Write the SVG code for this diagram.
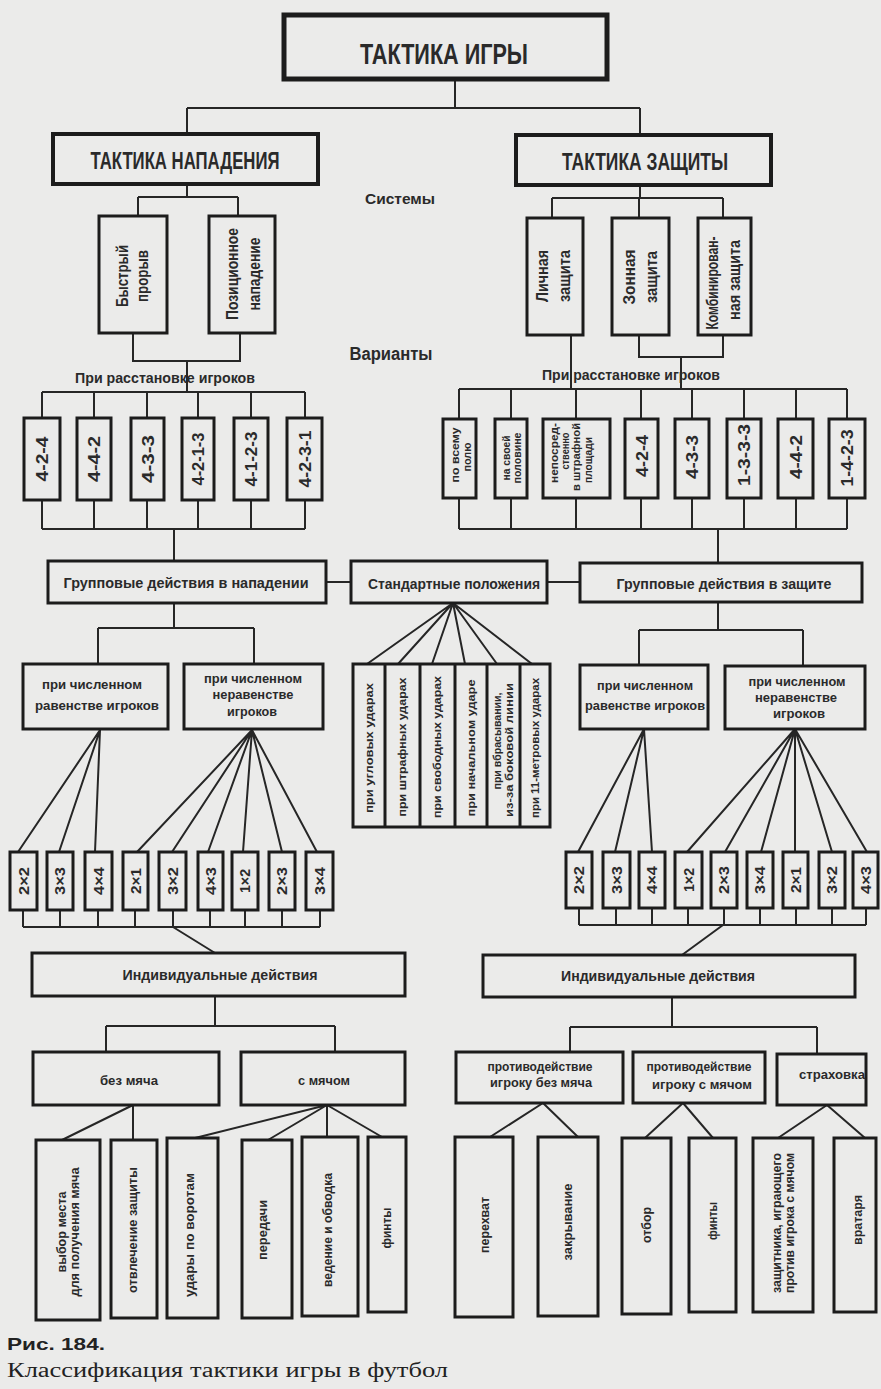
<svg xmlns="http://www.w3.org/2000/svg" width="881" height="1389" viewBox="0 0 881 1389">
<style>
.bg{fill:#ebebea}
.n rect,.n path{fill:none;stroke:#1c1c1c;stroke-width:3}
.n rect.t{stroke-width:5}
.n rect.s{stroke-width:4}
#connectors path{fill:none;stroke:#262626;stroke-width:2}
text{font-family:"Liberation Sans Narrow","Liberation Sans",Arial,sans-serif;font-weight:bold;fill:#2a2a2a;text-anchor:middle}
text.cap{font-family:"Liberation Serif","Times New Roman",serif;font-weight:normal;text-anchor:start;fill:#222}
text.fig{text-anchor:start;fill:#222}
</style>
<rect class="bg" x="0" y="0" width="881" height="1389"/>

<g id="connectors">
<path d="M455,79V108M187,108H640M187,108V134M640,108V135"/>
<path d="M187,184V197M138,197H238M138,197V216M238,197V216"/>
<path d="M133,333V361H240V333M187,361V392"/>
<path d="M42,392H305M42,392V418M94,392V418M147,392V418M198,392V418M251,392V418M305,392V418"/>
<path d="M42,500V529M94,500V529M147,500V529M198,500V529M251,500V529M305,500V529M42,529H305M174,529V561"/>
<path d="M640,185V198M552,198H723M552,198V218M639,198V218M723,198V218"/>
<path d="M571,335V389M639,335V357H723V335M681,357V389"/>
<path d="M459,389H847M459,389V419M511,389V419M576,389V419M641,389V419M692,389V419M744,389V419M796,389V419M847,389V419"/>
<path d="M459,498V529M511,498V529M576,498V529M641,498V529M692,498V529M744,498V529M796,498V529M847,498V529M459,529H847M718,529V563"/>
<path d="M326,582H351M547,582H580"/>
<path d="M174,603V628M98,628H254M98,628V664M254,628V664"/>
<path d="M718,602V630M639,630H803M639,630V665M803,630V666"/>
<path d="M100,730L18,852M100,730L59,852M100,730L95,852"/>
<path d="M252,730L137,852M252,730L172,852M252,730L208,852M252,730L243,852M252,730L282,852M252,730L317,852"/>
<path d="M453,603L367,664M453,603L398,664M453,603L432,664M453,603L465,664M453,603L497,664M453,603L532,664"/>
<path d="M644,729L578,852M644,729L615,852M644,729L652,852"/>
<path d="M795,729L687,852M795,729L725,852M795,729L761,852M795,729L795,852M795,729L832,852M795,729L867,852"/>
<path d="M23,910V927M60,910V927M98,910V927M135,910V927M173,910V927M210,910V927M245,910V927M282,910V927M320,910V927M23,927H320M173,927L215,953"/>
<path d="M579,908V925M616,908V925M652,908V925M688,908V925M724,908V925M760,908V925M796,908V925M832,908V925M866,908V925M579,925H866M723,925L682,955"/>
<path d="M215,996V1026M106,1026H335M106,1026V1052M335,1026V1052"/>
<path d="M672,997V1027M570,1027H817M570,1027V1052M817,1027V1054"/>
<path d="M133,1105L62,1140M133,1105V1140M327,1105L195,1138M327,1105L268,1140M327,1105V1137M327,1105L382,1137"/>
<path d="M543,1103L490,1137M543,1103L578,1137M683,1103L645,1138M683,1103L713,1138M827,1105L778,1138M827,1105L865,1138"/>
</g>

<g id="n-root" class="n"><rect class="t" x="284" y="15" width="323" height="64"/><text x="444" y="64" font-size="29" textLength="168" lengthAdjust="spacingAndGlyphs">ТАКТИКА ИГРЫ</text></g>
<g id="n-attack" class="n"><rect class="s" x="53" y="134" width="265" height="50"/><text x="185" y="169" font-size="23" textLength="189" lengthAdjust="spacingAndGlyphs">ТАКТИКА НАПАДЕНИЯ</text></g>
<g id="n-defense" class="n"><rect class="s" x="516" y="135" width="255" height="50"/><text x="645" y="170" font-size="23" textLength="166" lengthAdjust="spacingAndGlyphs">ТАКТИКА ЗАЩИТЫ</text></g>

<g id="lbl-systems"><text x="400" y="204" font-size="15" textLength="70" lengthAdjust="spacingAndGlyphs">Системы</text></g>
<g id="lbl-variants"><text x="391" y="360" font-size="18" textLength="83" lengthAdjust="spacingAndGlyphs">Варианты</text></g>
<g id="lbl-place-l"><text x="165" y="383" font-size="15" textLength="180" lengthAdjust="spacingAndGlyphs">При расстановке игроков</text></g>
<g id="lbl-place-r"><text x="631" y="380" font-size="15" textLength="178" lengthAdjust="spacingAndGlyphs">При расстановке игроков</text></g>

<g id="n-fast" class="n"><rect x="99" y="216" width="68" height="117"/>
<text transform="translate(128,276) rotate(-90)" font-size="16" textLength="62" lengthAdjust="spacingAndGlyphs">Быстрый</text>
<text transform="translate(148,276) rotate(-90)" font-size="16" textLength="52" lengthAdjust="spacingAndGlyphs">прорыв</text></g>
<g id="n-positional" class="n"><rect x="209" y="216" width="66" height="117"/>
<text transform="translate(238,274) rotate(-90)" font-size="16" textLength="92" lengthAdjust="spacingAndGlyphs">Позиционное</text>
<text transform="translate(260,274) rotate(-90)" font-size="16" textLength="73" lengthAdjust="spacingAndGlyphs">нападение</text></g>
<g id="n-personal" class="n"><rect x="527" y="218" width="56" height="117"/>
<text transform="translate(548,276) rotate(-90)" font-size="16" textLength="52" lengthAdjust="spacingAndGlyphs">Личная</text>
<text transform="translate(570,276) rotate(-90)" font-size="16" textLength="52" lengthAdjust="spacingAndGlyphs">защита</text></g>
<g id="n-zone" class="n"><rect x="612" y="218" width="57" height="117"/>
<text transform="translate(635,277) rotate(-90)" font-size="16" textLength="55" lengthAdjust="spacingAndGlyphs">Зонная</text>
<text transform="translate(657,277) rotate(-90)" font-size="16" textLength="52" lengthAdjust="spacingAndGlyphs">защита</text></g>
<g id="n-combined" class="n"><rect x="698" y="218" width="53" height="117"/>
<text transform="translate(718,283) rotate(-90)" font-size="16" textLength="93" lengthAdjust="spacingAndGlyphs">Комбинирован-</text>
<text transform="translate(740,280) rotate(-90)" font-size="16" textLength="80" lengthAdjust="spacingAndGlyphs">ная защита</text></g>

<g id="n-va1" class="n"><rect x="24" y="418" width="36" height="82"/><text transform="translate(48,459) rotate(-90)" font-size="17" textLength="45" lengthAdjust="spacingAndGlyphs">4-2-4</text></g>
<g id="n-va2" class="n"><rect x="77" y="418" width="34" height="82"/><text transform="translate(100,459) rotate(-90)" font-size="17" textLength="46" lengthAdjust="spacingAndGlyphs">4-4-2</text></g>
<g id="n-va3" class="n"><rect x="131" y="418" width="33" height="82"/><text transform="translate(153.5,459) rotate(-90)" font-size="17" textLength="48" lengthAdjust="spacingAndGlyphs">4-3-3</text></g>
<g id="n-va4" class="n"><rect x="182" y="418" width="32" height="82"/><text transform="translate(204,459) rotate(-90)" font-size="17" textLength="53" lengthAdjust="spacingAndGlyphs">4-2-1-3</text></g>
<g id="n-va5" class="n"><rect x="234" y="418" width="34" height="82"/><text transform="translate(257,459) rotate(-90)" font-size="17" textLength="55" lengthAdjust="spacingAndGlyphs">4-1-2-3</text></g>
<g id="n-va6" class="n"><rect x="287" y="418" width="35" height="82"/><text transform="translate(310.5,459) rotate(-90)" font-size="17" textLength="57" lengthAdjust="spacingAndGlyphs">4-2-3-1</text></g>

<g id="n-vd1" class="n"><rect x="443" y="419" width="33" height="79"/>
<text transform="translate(458.5,455) rotate(-90)" font-size="11" textLength="55" lengthAdjust="spacingAndGlyphs">по всему</text>
<text transform="translate(470.5,457) rotate(-90)" font-size="11" textLength="29" lengthAdjust="spacingAndGlyphs">полю</text></g>
<g id="n-vd2" class="n"><rect x="495" y="419" width="32" height="79"/>
<text transform="translate(509.5,458) rotate(-90)" font-size="11" textLength="45" lengthAdjust="spacingAndGlyphs">на своей</text>
<text transform="translate(520.5,458) rotate(-90)" font-size="11" textLength="51" lengthAdjust="spacingAndGlyphs">половине</text></g>
<g id="n-vd3" class="n"><rect x="543" y="419" width="67" height="79"/>
<text transform="translate(558,453) rotate(-90)" font-size="10" textLength="60" lengthAdjust="spacingAndGlyphs">непосред-</text>
<text transform="translate(569,451) rotate(-90)" font-size="10" textLength="37" lengthAdjust="spacingAndGlyphs">ственно</text>
<text transform="translate(580,457) rotate(-90)" font-size="10" textLength="68" lengthAdjust="spacingAndGlyphs">в штрафной</text>
<text transform="translate(592,460) rotate(-90)" font-size="10" textLength="46" lengthAdjust="spacingAndGlyphs">площади</text></g>
<g id="n-vd4" class="n"><rect x="625" y="419" width="33" height="79"/><text transform="translate(647.5,456) rotate(-90)" font-size="17" textLength="42" lengthAdjust="spacingAndGlyphs">4-2-4</text></g>
<g id="n-vd5" class="n"><rect x="675" y="419" width="34" height="79"/><text transform="translate(698,457) rotate(-90)" font-size="17" textLength="44" lengthAdjust="spacingAndGlyphs">4-3-3</text></g>
<g id="n-vd6" class="n"><rect x="727" y="419" width="34" height="79"/><text transform="translate(750,455) rotate(-90)" font-size="17" textLength="62" lengthAdjust="spacingAndGlyphs">1-3-3-3</text></g>
<g id="n-vd7" class="n"><rect x="778" y="419" width="35" height="79"/><text transform="translate(801.5,457) rotate(-90)" font-size="17" textLength="44" lengthAdjust="spacingAndGlyphs">4-4-2</text></g>
<g id="n-vd8" class="n"><rect x="829" y="419" width="36" height="79"/><text transform="translate(853,458) rotate(-90)" font-size="17" textLength="57" lengthAdjust="spacingAndGlyphs">1-4-2-3</text></g>

<g id="n-group-att" class="n"><rect x="48" y="561" width="278" height="42"/><text x="186" y="588" font-size="15" textLength="245" lengthAdjust="spacingAndGlyphs">Групповые действия в нападении</text></g>
<g id="n-standard" class="n"><rect x="351" y="561" width="196" height="42"/><text x="454" y="589" font-size="15" textLength="172" lengthAdjust="spacingAndGlyphs">Стандартные положения</text></g>
<g id="n-group-def" class="n"><rect x="580" y="563" width="282" height="39"/><text x="724" y="589" font-size="15" textLength="215" lengthAdjust="spacingAndGlyphs">Групповые действия в защите</text></g>

<g id="n-eq-att" class="n"><rect x="23" y="664" width="145" height="65"/>
<text x="92" y="689" font-size="13" textLength="100" lengthAdjust="spacingAndGlyphs">при численном</text>
<text x="97" y="710" font-size="13" textLength="124" lengthAdjust="spacingAndGlyphs">равенстве игроков</text></g>
<g id="n-neq-att" class="n"><rect x="184" y="664" width="139" height="65"/>
<text x="253" y="683" font-size="13" textLength="98" lengthAdjust="spacingAndGlyphs">при численном</text>
<text x="253" y="699" font-size="13" textLength="81" lengthAdjust="spacingAndGlyphs">неравенстве</text>
<text x="252" y="716" font-size="13" textLength="50" lengthAdjust="spacingAndGlyphs">игроков</text></g>
<g id="n-eq-def" class="n"><rect x="580" y="665" width="128" height="64"/>
<text x="645" y="690" font-size="13" textLength="96" lengthAdjust="spacingAndGlyphs">при численном</text>
<text x="645" y="710" font-size="13" textLength="120" lengthAdjust="spacingAndGlyphs">равенстве игроков</text></g>
<g id="n-neq-def" class="n"><rect x="725" y="666" width="140" height="63"/>
<text x="797" y="686" font-size="13" textLength="97" lengthAdjust="spacingAndGlyphs">при численном</text>
<text x="796" y="702" font-size="13" textLength="82" lengthAdjust="spacingAndGlyphs">неравенстве</text>
<text x="799" y="718" font-size="13" textLength="52" lengthAdjust="spacingAndGlyphs">игроков</text></g>

<g id="n-std-items" class="n"><rect x="353" y="664" width="197" height="163"/>
<path d="M385,664V827M420,664V827M455,664V827M487,664V827M520,664V827"/>
<text transform="translate(372.5,748) rotate(-90)" font-size="11.5" textLength="130" lengthAdjust="spacingAndGlyphs">при угловых ударах</text>
<text transform="translate(405.5,747) rotate(-90)" font-size="11.5" textLength="139" lengthAdjust="spacingAndGlyphs">при штрафных ударах</text>
<text transform="translate(440.5,747) rotate(-90)" font-size="11.5" textLength="142" lengthAdjust="spacingAndGlyphs">при свободных ударах</text>
<text transform="translate(474.5,748) rotate(-90)" font-size="11.5" textLength="137" lengthAdjust="spacingAndGlyphs">при начальном ударе</text>
<text transform="translate(500.5,741) rotate(-90)" font-size="11.5" textLength="97" lengthAdjust="spacingAndGlyphs">при вбрасывании,</text>
<text transform="translate(512.5,750) rotate(-90)" font-size="11.5" textLength="134" lengthAdjust="spacingAndGlyphs">из-за боковой линии</text>
<text transform="translate(538.5,748) rotate(-90)" font-size="11.5" textLength="140" lengthAdjust="spacingAndGlyphs">при 11-метровых ударах</text></g>

<g id="n-ga1" class="n"><rect x="10" y="852" width="27" height="58"/><text transform="translate(28.5,881) rotate(-90)" font-size="14" textLength="28" lengthAdjust="spacingAndGlyphs">2×2</text></g>
<g id="n-ga2" class="n"><rect x="47" y="852" width="26" height="58"/><text transform="translate(65,881) rotate(-90)" font-size="14" textLength="28" lengthAdjust="spacingAndGlyphs">3×3</text></g>
<g id="n-ga3" class="n"><rect x="85" y="852" width="27" height="58"/><text transform="translate(103.5,881) rotate(-90)" font-size="14" textLength="28" lengthAdjust="spacingAndGlyphs">4×4</text></g>
<g id="n-ga4" class="n"><rect x="123" y="852" width="25" height="58"/><text transform="translate(140.5,881) rotate(-90)" font-size="14" textLength="26" lengthAdjust="spacingAndGlyphs">2×1</text></g>
<g id="n-ga5" class="n"><rect x="159" y="852" width="27" height="58"/><text transform="translate(177.5,881) rotate(-90)" font-size="14" textLength="28" lengthAdjust="spacingAndGlyphs">3×2</text></g>
<g id="n-ga6" class="n"><rect x="198" y="852" width="25" height="58"/><text transform="translate(215.5,881) rotate(-90)" font-size="14" textLength="28" lengthAdjust="spacingAndGlyphs">4×3</text></g>
<g id="n-ga7" class="n"><rect x="232" y="852" width="26" height="58"/><text transform="translate(250,881) rotate(-90)" font-size="14" textLength="24" lengthAdjust="spacingAndGlyphs">1×2</text></g>
<g id="n-ga8" class="n"><rect x="269" y="852" width="26" height="58"/><text transform="translate(287,881) rotate(-90)" font-size="14" textLength="28" lengthAdjust="spacingAndGlyphs">2×3</text></g>
<g id="n-ga9" class="n"><rect x="306" y="852" width="27" height="58"/><text transform="translate(324.5,881) rotate(-90)" font-size="14" textLength="28" lengthAdjust="spacingAndGlyphs">3×4</text></g>

<g id="n-gd1" class="n"><rect x="566" y="852" width="26" height="56"/><text transform="translate(584,880) rotate(-90)" font-size="14" textLength="28" lengthAdjust="spacingAndGlyphs">2×2</text></g>
<g id="n-gd2" class="n"><rect x="603" y="852" width="27" height="56"/><text transform="translate(621.5,880) rotate(-90)" font-size="14" textLength="28" lengthAdjust="spacingAndGlyphs">3×3</text></g>
<g id="n-gd3" class="n"><rect x="639" y="852" width="26" height="56"/><text transform="translate(657,880) rotate(-90)" font-size="14" textLength="28" lengthAdjust="spacingAndGlyphs">4×4</text></g>
<g id="n-gd4" class="n"><rect x="675" y="852" width="27" height="56"/><text transform="translate(693.5,880) rotate(-90)" font-size="14" textLength="24" lengthAdjust="spacingAndGlyphs">1×2</text></g>
<g id="n-gd5" class="n"><rect x="711" y="852" width="26" height="56"/><text transform="translate(729,880) rotate(-90)" font-size="14" textLength="28" lengthAdjust="spacingAndGlyphs">2×3</text></g>
<g id="n-gd6" class="n"><rect x="747" y="852" width="26" height="56"/><text transform="translate(765,880) rotate(-90)" font-size="14" textLength="28" lengthAdjust="spacingAndGlyphs">3×4</text></g>
<g id="n-gd7" class="n"><rect x="783" y="852" width="25" height="56"/><text transform="translate(800.5,880) rotate(-90)" font-size="14" textLength="26" lengthAdjust="spacingAndGlyphs">2×1</text></g>
<g id="n-gd8" class="n"><rect x="819" y="852" width="26" height="56"/><text transform="translate(837,880) rotate(-90)" font-size="14" textLength="28" lengthAdjust="spacingAndGlyphs">3×2</text></g>
<g id="n-gd9" class="n"><rect x="853" y="852" width="25" height="56"/><text transform="translate(870.5,880) rotate(-90)" font-size="14" textLength="28" lengthAdjust="spacingAndGlyphs">4×3</text></g>

<g id="n-ind-att" class="n"><rect x="32" y="953" width="373" height="43"/><text x="220" y="980" font-size="15" textLength="195" lengthAdjust="spacingAndGlyphs">Индивидуальные действия</text></g>
<g id="n-ind-def" class="n"><rect x="483" y="955" width="372" height="42"/><text x="658" y="981" font-size="15" textLength="194" lengthAdjust="spacingAndGlyphs">Индивидуальные действия</text></g>

<g id="n-noball" class="n"><rect x="33" y="1052" width="186" height="53"/><text x="129" y="1085" font-size="13" textLength="58" lengthAdjust="spacingAndGlyphs">без мяча</text></g>
<g id="n-ball" class="n"><rect x="241" y="1052" width="164" height="53"/><text x="324" y="1085" font-size="13" textLength="52" lengthAdjust="spacingAndGlyphs">с мячом</text></g>
<g id="n-opp-noball" class="n"><rect x="456" y="1052" width="167" height="51"/>
<text x="540" y="1071" font-size="12.5" textLength="105" lengthAdjust="spacingAndGlyphs">противодействие</text>
<text x="541" y="1087" font-size="12.5" textLength="102" lengthAdjust="spacingAndGlyphs">игроку без мяча</text></g>
<g id="n-opp-ball" class="n"><rect x="633" y="1052" width="132" height="51"/>
<text x="699" y="1071" font-size="12.5" textLength="105" lengthAdjust="spacingAndGlyphs">противодействие</text>
<text x="702" y="1089" font-size="12.5" textLength="100" lengthAdjust="spacingAndGlyphs">игроку  с мячом</text></g>
<g id="n-cover" class="n"><rect x="777" y="1054" width="89" height="51"/><text x="832" y="1079" font-size="12.5" textLength="66" lengthAdjust="spacingAndGlyphs">страховка</text></g>

<g id="n-place" class="n"><rect x="36" y="1140" width="64" height="180"/>
<text transform="translate(65.6,1232) rotate(-90)" font-size="12" textLength="81" lengthAdjust="spacingAndGlyphs">выбор места</text>
<text transform="translate(78.6,1232) rotate(-90)" font-size="12" textLength="129" lengthAdjust="spacingAndGlyphs">для получения мяча</text></g>
<g id="n-distract" class="n"><rect x="111" y="1140" width="46" height="178"/><text transform="translate(136.6,1230) rotate(-90)" font-size="12" textLength="126" lengthAdjust="spacingAndGlyphs">отвлечение защиты</text></g>
<g id="n-shots" class="n"><rect x="167" y="1138" width="51" height="180"/><text transform="translate(193.6,1235) rotate(-90)" font-size="12" textLength="124" lengthAdjust="spacingAndGlyphs">удары по воротам</text></g>
<g id="n-pass" class="n"><rect x="242" y="1140" width="50" height="178"/><text transform="translate(266.6,1230) rotate(-90)" font-size="12" textLength="60" lengthAdjust="spacingAndGlyphs">передачи</text></g>
<g id="n-dribble" class="n"><rect x="302" y="1137" width="56" height="179"/><text transform="translate(331.6,1230) rotate(-90)" font-size="12" textLength="114" lengthAdjust="spacingAndGlyphs">ведение и обводка</text></g>
<g id="n-feint-att" class="n"><rect x="368" y="1137" width="38" height="175"/><text transform="translate(390.6,1228) rotate(-90)" font-size="12" textLength="41" lengthAdjust="spacingAndGlyphs">финты</text></g>

<g id="n-intercept" class="n"><rect x="455" y="1137" width="58" height="180"/><text transform="translate(488.6,1225) rotate(-90)" font-size="12" textLength="56" lengthAdjust="spacingAndGlyphs">перехват</text></g>
<g id="n-close" class="n"><rect x="538" y="1137" width="60" height="179"/><text transform="translate(571.6,1222) rotate(-90)" font-size="12" textLength="77" lengthAdjust="spacingAndGlyphs">закрывание</text></g>
<g id="n-tackle" class="n"><rect x="622" y="1138" width="49" height="176"/><text transform="translate(650.6,1225) rotate(-90)" font-size="12" textLength="36" lengthAdjust="spacingAndGlyphs">отбор</text></g>
<g id="n-feint-def" class="n"><rect x="689" y="1138" width="47" height="174"/><text transform="translate(716.6,1221) rotate(-90)" font-size="12" textLength="38" lengthAdjust="spacingAndGlyphs">финты</text></g>
<g id="n-defender" class="n"><rect x="753" y="1138" width="60" height="174"/>
<text transform="translate(780.6,1223) rotate(-90)" font-size="12" textLength="140" lengthAdjust="spacingAndGlyphs">защитника, играющего</text>
<text transform="translate(793.6,1223) rotate(-90)" font-size="12" textLength="140" lengthAdjust="spacingAndGlyphs">против игрока с мячом</text></g>
<g id="n-keeper" class="n"><rect x="834" y="1138" width="42" height="174"/><text transform="translate(861.6,1220) rotate(-90)" font-size="12" textLength="50" lengthAdjust="spacingAndGlyphs">вратаря</text></g>

<g id="caption">
<text class="fig" x="7" y="1350" font-size="17" textLength="98" lengthAdjust="spacingAndGlyphs">Рис. 184.</text>
<text class="cap" x="7" y="1377" font-size="20" textLength="441" lengthAdjust="spacingAndGlyphs">Классификация  тактики  игры  в  футбол</text>
</g>
</svg>
